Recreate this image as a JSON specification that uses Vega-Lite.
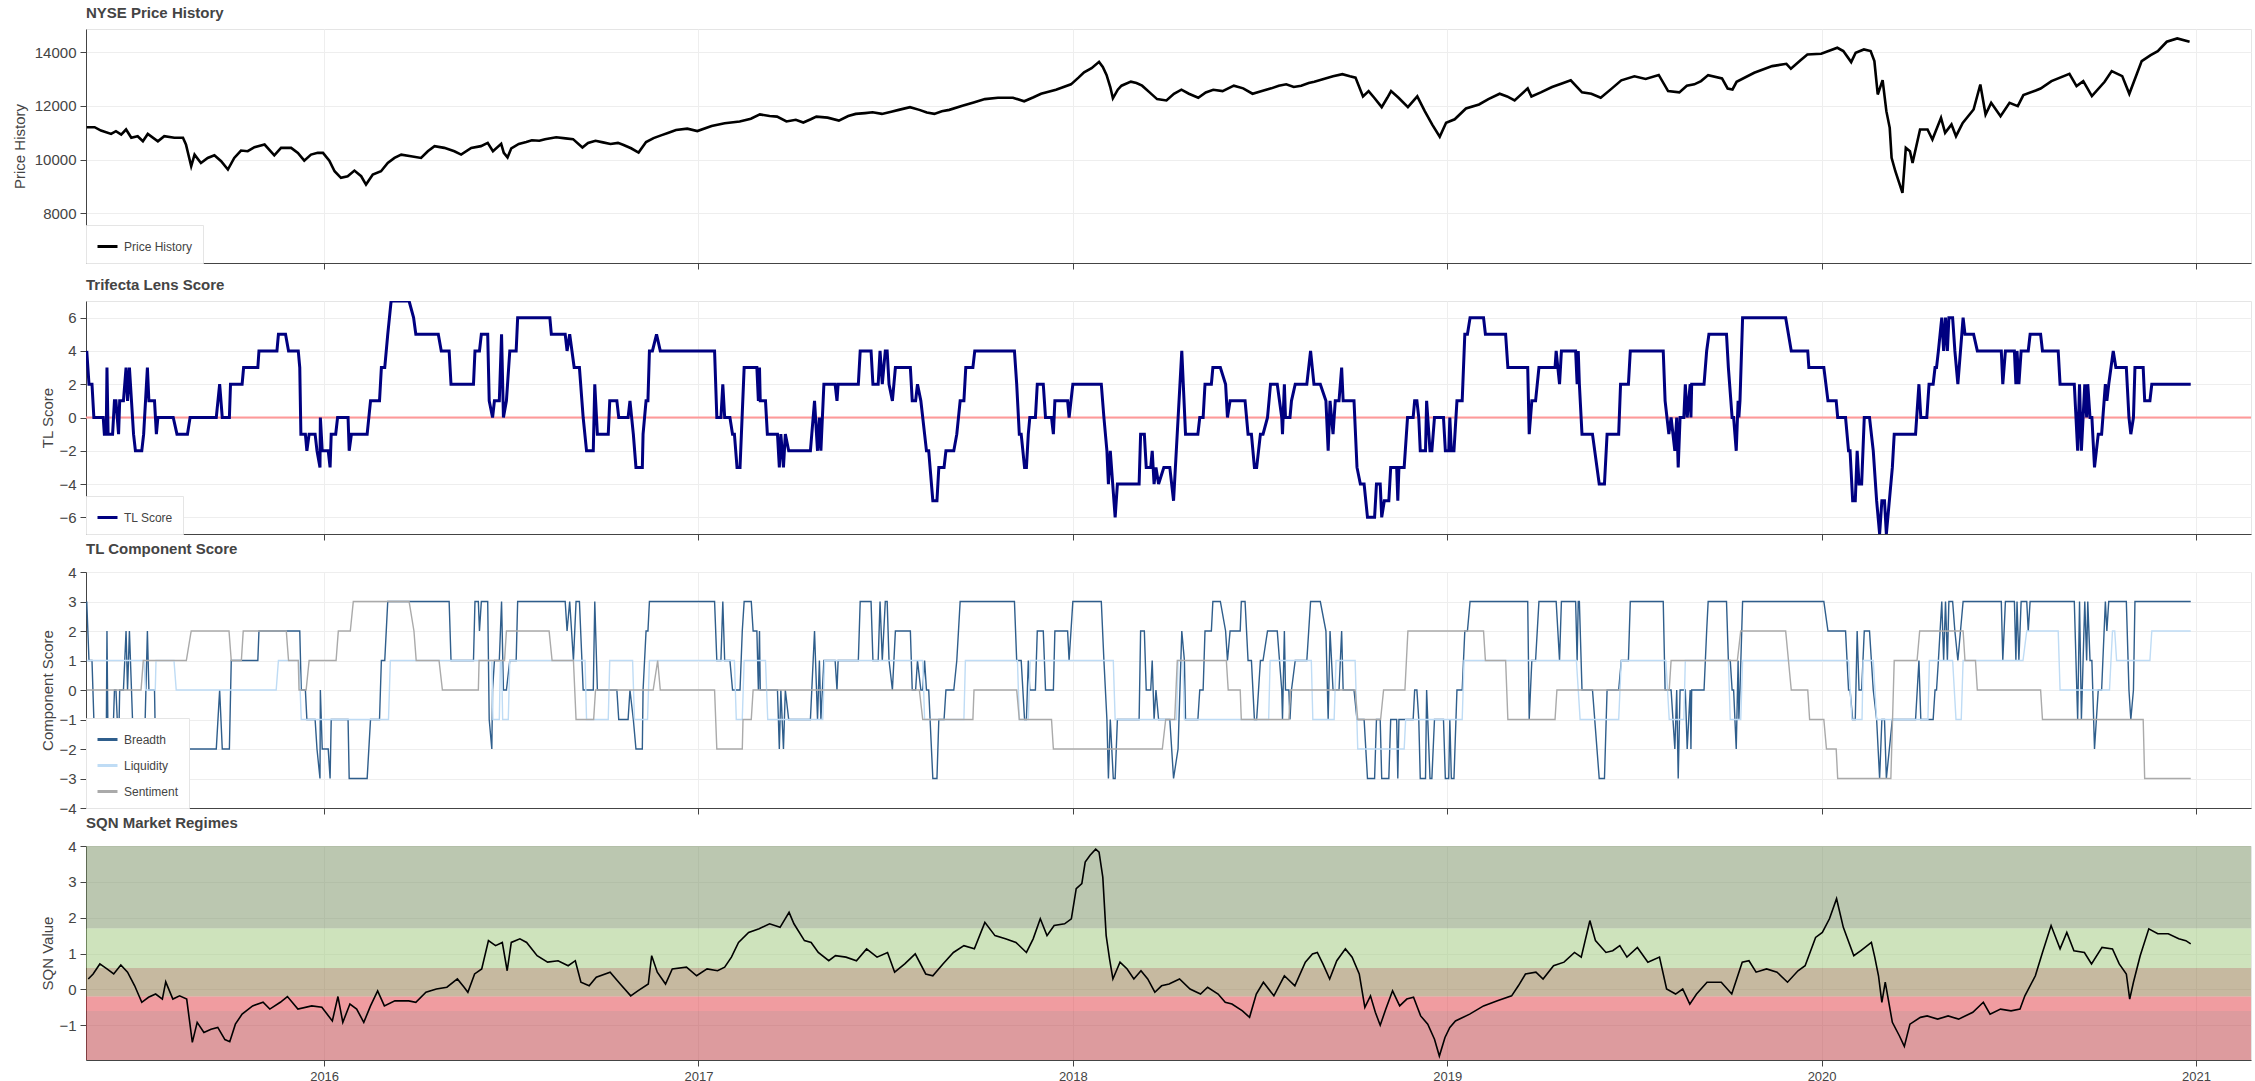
{
"$schema": "https://vega.github.io/schema/vega-lite/v6.json",
"autosize": {"type": "pad"},
"padding": {"left": 11, "top": 5, "right": 5, "bottom": 0},
"background": "white",
"bounds": "flush",
"spacing": 38,
"config": {
 "font": "Liberation Sans",
 "view": {"stroke": "#e5e5e5"},
 "title": {"anchor": "start", "fontSize": 15, "fontWeight": "bold", "color": "#444444", "offset": 8, "frame": "group"},
 "axis": {"labelFontSize": 15, "labelColor": "#444444", "titleFontSize": 15, "titleFontWeight": "normal", "titleColor": "#444444", "domainColor": "#444444", "tickColor": "#444444", "gridColor": "#eeeeee", "tickSize": 6, "labelPadding": 4, "titlePadding": 7},
 "legend": {"orient": "bottom-left", "offset": 0, "padding": 10, "fillColor": "white", "strokeColor": "#e5e5e5", "labelFontSize": 12, "labelColor": "#444444", "symbolType": "stroke", "symbolSize": 400, "symbolStrokeWidth": 3, "rowPadding": 8, "labelOffset": 5}
},
"resolve": {"scale": {"x": "independent", "y": "independent", "color": "independent"}, "legend": {"color": "independent"}},
"datasets": {
"price": [
{"t":2015.366,"v":11205},{"t":2015.387,"v":11205},{"t":2015.404,"v":11080},{"t":2015.431,"v":10955},{"t":2015.444,"v":11055},{"t":2015.458,"v":10930},{"t":2015.471,"v":11120},{"t":2015.485,"v":10810},{"t":2015.502,"v":10870},{"t":2015.516,"v":10680},{"t":2015.529,"v":10955},{"t":2015.556,"v":10680},{"t":2015.573,"v":10870},{"t":2015.600,"v":10810},{"t":2015.623,"v":10810},{"t":2015.631,"v":10560},{"t":2015.645,"v":9750},{"t":2015.654,"v":10185},{"t":2015.671,"v":9875},{"t":2015.689,"v":10060},{"t":2015.707,"v":10160},{"t":2015.725,"v":9940},{"t":2015.743,"v":9630},{"t":2015.760,"v":10060},{"t":2015.778,"v":10335},{"t":2015.796,"v":10310},{"t":2015.814,"v":10460},{"t":2015.841,"v":10560},{"t":2015.867,"v":10160},{"t":2015.885,"v":10435},{"t":2015.912,"v":10435},{"t":2015.930,"v":10250},{"t":2015.947,"v":9960},{"t":2015.965,"v":10185},{"t":2015.983,"v":10250},{"t":2015.997,"v":10250},{"t":2016.014,"v":9960},{"t":2016.028,"v":9565},{"t":2016.045,"v":9320},{"t":2016.063,"v":9380},{"t":2016.081,"v":9590},{"t":2016.099,"v":9380},{"t":2016.112,"v":9070},{"t":2016.130,"v":9440},{"t":2016.152,"v":9565},{"t":2016.170,"v":9875},{"t":2016.188,"v":10060},{"t":2016.206,"v":10185},{"t":2016.232,"v":10125},{"t":2016.259,"v":10060},{"t":2016.277,"v":10310},{"t":2016.295,"v":10500},{"t":2016.321,"v":10435},{"t":2016.348,"v":10310},{"t":2016.366,"v":10185},{"t":2016.393,"v":10435},{"t":2016.419,"v":10500},{"t":2016.437,"v":10620},{"t":2016.451,"v":10310},{"t":2016.473,"v":10585},
{"t":2016.480,"v":10250},{"t":2016.490,"v":10080},{"t":2016.500,"v":10420},{"t":2016.520,"v":10580},{"t":2016.540,"v":10650},{"t":2016.555,"v":10720},{"t":2016.575,"v":10700},{"t":2016.590,"v":10760},{"t":2016.620,"v":10830},{"t":2016.645,"v":10790},{"t":2016.665,"v":10760},{"t":2016.690,"v":10450},{"t":2016.705,"v":10620},{"t":2016.725,"v":10700},{"t":2016.745,"v":10640},{"t":2016.765,"v":10580},{"t":2016.785,"v":10620},{"t":2016.800,"v":10540},{"t":2016.820,"v":10420},{"t":2016.840,"v":10260},{"t":2016.860,"v":10650},{"t":2016.880,"v":10800},{"t":2016.900,"v":10900},{"t":2016.920,"v":11000},{"t":2016.940,"v":11100},{"t":2016.970,"v":11150},{"t":2016.997,"v":11060},{"t":2017.035,"v":11250},{"t":2017.070,"v":11350},{"t":2017.110,"v":11420},{"t":2017.140,"v":11520},{"t":2017.164,"v":11680},{"t":2017.190,"v":11620},{"t":2017.210,"v":11600},{"t":2017.235,"v":11420},{"t":2017.260,"v":11480},{"t":2017.280,"v":11380},{"t":2017.300,"v":11500},{"t":2017.315,"v":11600},{"t":2017.345,"v":11560},{"t":2017.375,"v":11450},{"t":2017.400,"v":11620},{"t":2017.420,"v":11700},{"t":2017.445,"v":11730},{"t":2017.465,"v":11760},{"t":2017.490,"v":11700},{"t":2017.515,"v":11780},{"t":2017.535,"v":11850},{"t":2017.565,"v":11950},{"t":2017.590,"v":11850},{"t":2017.610,"v":11750},{"t":2017.630,"v":11700},{"t":2017.650,"v":11800},{"t":2017.670,"v":11850},{"t":2017.705,"v":12000},{"t":2017.735,"v":12120},{"t":2017.765,"v":12250},{"t":2017.800,"v":12300},{"t":2017.840,"v":12300},{"t":2017.870,"v":12170},{"t":2017.895,"v":12320},{"t":2017.915,"v":12450},{"t":2017.955,"v":12600},{"t":2017.995,"v":12800},{"t":2018.015,"v":13050},{"t":2018.030,"v":13250},{"t":2018.050,"v":13400},{"t":2018.070,"v":13637},{"t":2018.080,"v":13450},{"t":2018.090,"v":13150},{"t":2018.100,"v":12700},{"t":2018.107,"v":12280},{"t":2018.120,"v":12600},{"t":2018.130,"v":12750},{"t":2018.155,"v":12900},{"t":2018.170,"v":12850},{"t":2018.185,"v":12750},{"t":2018.205,"v":12500},{"t":2018.225,"v":12250},{"t":2018.250,"v":12200},{"t":2018.270,"v":12450},{"t":2018.290,"v":12600},{"t":2018.310,"v":12450},{"t":2018.335,"v":12300},{"t":2018.355,"v":12500},{"t":2018.375,"v":12600},{"t":2018.400,"v":12550},{"t":2018.430,"v":12750},{"t":2018.455,"v":12650},{"t":2018.480,"v":12450},{"t":2018.505,"v":12550},{"t":2018.530,"v":12650},{"t":2018.550,"v":12750},{"t":2018.570,"v":12800},{"t":2018.590,"v":12700},{"t":2018.610,"v":12750},{"t":2018.630,"v":12850},{"t":2018.645,"v":12900},{"t":2018.670,"v":13000},{"t":2018.695,"v":13100},{"t":2018.720,"v":13180},{"t":2018.740,"v":13100},{"t":2018.755,"v":13050},{"t":2018.775,"v":12350},{"t":2018.790,"v":12550},{"t":2018.805,"v":12300},{"t":2018.825,"v":11950},{"t":2018.840,"v":12300},{"t":2018.850,"v":12550},{"t":2018.870,"v":12300},{"t":2018.895,"v":11950},{"t":2018.920,"v":12350},{"t":2018.940,"v":11800},{"t":2018.960,"v":11300},{"t":2018.980,"v":10850},{"t":2018.997,"v":11370},{"t":2019.020,"v":11500},{"t":2019.050,"v":11900},{"t":2019.085,"v":12050},{"t":2019.110,"v":12250},{"t":2019.140,"v":12450},{"t":2019.160,"v":12350},{"t":2019.180,"v":12200},{"t":2019.215,"v":12650},{"t":2019.225,"v":12350},{"t":2019.250,"v":12500},{"t":2019.280,"v":12700},{"t":2019.310,"v":12850},{"t":2019.330,"v":12950},{"t":2019.360,"v":12500},{"t":2019.385,"v":12450},{"t":2019.410,"v":12300},{"t":2019.440,"v":12650},{"t":2019.465,"v":12950},{"t":2019.500,"v":13100},{"t":2019.530,"v":13000},{"t":2019.565,"v":13150},{"t":2019.590,"v":12550},{"t":2019.620,"v":12500},{"t":2019.640,"v":12750},{"t":2019.660,"v":12800},
{"t":2019.678,"v":12920},{"t":2019.697,"v":13143},{"t":2019.734,"v":13019},{"t":2019.749,"v":12646},{"t":2019.762,"v":12609},{"t":2019.773,"v":12895},{"t":2019.820,"v":13230},{"t":2019.868,"v":13478},{"t":2019.906,"v":13565},{"t":2019.918,"v":13379},{"t":2019.943,"v":13690},{"t":2019.962,"v":13913},{"t":2019.999,"v":13938},{"t":2020.042,"v":14161},{"t":2020.058,"v":14037},{"t":2020.079,"v":13627},{"t":2020.091,"v":13975},{"t":2020.113,"v":14099},{"t":2020.131,"v":14037},{"t":2020.141,"v":13665},{"t":2020.150,"v":12423},{"t":2020.163,"v":12957},{"t":2020.173,"v":11802},{"t":2020.182,"v":11181},{"t":2020.187,"v":10063},{"t":2020.197,"v":9566},{"t":2020.216,"v":8759},{"t":2020.225,"v":10435},{"t":2020.236,"v":10311},{"t":2020.243,"v":9876},{"t":2020.263,"v":11118},{"t":2020.283,"v":11118},{"t":2020.296,"v":10746},{"t":2020.319,"v":11553},{"t":2020.330,"v":10994},{"t":2020.347,"v":11305},{"t":2020.359,"v":10870},{"t":2020.377,"v":11367},{"t":2020.406,"v":11864},{"t":2020.424,"v":12795},{"t":2020.438,"v":11677},{"t":2020.453,"v":12112},{"t":2020.478,"v":11615},{"t":2020.502,"v":12112},{"t":2020.524,"v":11988},{"t":2020.539,"v":12398},{"t":2020.572,"v":12572},{"t":2020.585,"v":12646},{"t":2020.614,"v":12920},{"t":2020.662,"v":13193},{"t":2020.681,"v":12733},{"t":2020.699,"v":12920},{"t":2020.722,"v":12361},{"t":2020.756,"v":12895},{"t":2020.775,"v":13292},{"t":2020.803,"v":13106},{"t":2020.822,"v":12447},{"t":2020.855,"v":13665},{"t":2020.879,"v":13888},{"t":2020.898,"v":14037},{"t":2020.922,"v":14385},{"t":2020.950,"v":14509},{"t":2020.983,"v":14385}
],
"tl": [
{"t":2015.366,"v":4},{"t":2015.372,"v":2},{"t":2015.380,"v":2},{"t":2015.385,"v":0},{"t":2015.410,"v":0},{"t":2015.413,"v":-1},{"t":2015.418,"v":-1},{"t":2015.420,"v":3},{"t":2015.423,"v":-1},{"t":2015.435,"v":-1},{"t":2015.440,"v":1},{"t":2015.444,"v":1},{"t":2015.451,"v":-1},{"t":2015.454,"v":1},{"t":2015.464,"v":1},{"t":2015.471,"v":3},{"t":2015.475,"v":1},{"t":2015.480,"v":3},{"t":2015.491,"v":-1},{"t":2015.496,"v":-2},{"t":2015.513,"v":-2},{"t":2015.518,"v":-1},{"t":2015.528,"v":3},{"t":2015.532,"v":1},{"t":2015.547,"v":1},{"t":2015.552,"v":-1},{"t":2015.556,"v":0},{"t":2015.597,"v":0},{"t":2015.607,"v":-1},{"t":2015.635,"v":-1},{"t":2015.642,"v":0},{"t":2015.712,"v":0},{"t":2015.721,"v":2},{"t":2015.728,"v":0},{"t":2015.747,"v":0},{"t":2015.750,"v":2},{"t":2015.781,"v":2},{"t":2015.785,"v":3},{"t":2015.823,"v":3},{"t":2015.826,"v":4},{"t":2015.874,"v":4},{"t":2015.878,"v":5},{"t":2015.897,"v":5},{"t":2015.905,"v":4},{"t":2015.931,"v":4},{"t":2015.935,"v":3},{"t":2015.938,"v":-1},{"t":2015.950,"v":-1},{"t":2015.954,"v":-2},{"t":2015.960,"v":-1},{"t":2015.976,"v":-1},{"t":2015.981,"v":-2},{"t":2015.989,"v":-3},{"t":2015.990,"v":0},{"t":2015.995,"v":-2},{"t":2016.011,"v":-2},{"t":2016.016,"v":-3},{"t":2016.019,"v":-1},{"t":2016.031,"v":-1},{"t":2016.036,"v":0},{"t":2016.064,"v":0},{"t":2016.067,"v":-2},{"t":2016.073,"v":-1},{"t":2016.115,"v":-1},{"t":2016.124,"v":1},{"t":2016.148,"v":1},{"t":2016.153,"v":3},{"t":2016.162,"v":3},{"t":2016.170,"v":5},{"t":2016.179,"v":7},{"t":2016.227,"v":7},{"t":2016.239,"v":6},{"t":2016.245,"v":5},{"t":2016.305,"v":5},{"t":2016.313,"v":4},{"t":2016.334,"v":4},{"t":2016.339,"v":2},{"t":2016.399,"v":2},{"t":2016.403,"v":4},{"t":2016.415,"v":4},{"t":2016.420,"v":5},{"t":2016.437,"v":5},{"t":2016.441,"v":1},{"t":2016.450,"v":0},{"t":2016.455,"v":1},{"t":2016.468,"v":1},{"t":2016.474,"v":5},{"t":2016.479,"v":0},{"t":2016.487,"v":1},{"t":2016.496,"v":4},{"t":2016.513,"v":4},{"t":2016.517,"v":6},{"t":2016.603,"v":6},{"t":2016.607,"v":5},{"t":2016.644,"v":5},{"t":2016.649,"v":4},{"t":2016.656,"v":5},{"t":2016.668,"v":3},{"t":2016.682,"v":3},{"t":2016.692,"v":0},{"t":2016.701,"v":-2},{"t":2016.719,"v":-2},{"t":2016.723,"v":2},{"t":2016.730,"v":-1},{"t":2016.759,"v":-1},{"t":2016.763,"v":1},{"t":2016.782,"v":1},{"t":2016.787,"v":0},
{"t":2016.812,"v":0},{"t":2016.817,"v":1},{"t":2016.826,"v":-1},{"t":2016.833,"v":-3},{"t":2016.850,"v":-3},{"t":2016.852,"v":-1},{"t":2016.860,"v":1},{"t":2016.865,"v":1},{"t":2016.869,"v":4},{"t":2016.877,"v":4},{"t":2016.888,"v":5},{"t":2016.898,"v":4},{"t":2017.043,"v":4},{"t":2017.049,"v":0},{"t":2017.060,"v":0},{"t":2017.065,"v":2},{"t":2017.070,"v":0},{"t":2017.084,"v":0},{"t":2017.091,"v":-1},{"t":2017.096,"v":-1},{"t":2017.103,"v":-3},{"t":2017.111,"v":-3},{"t":2017.122,"v":3},{"t":2017.156,"v":3},{"t":2017.160,"v":1},{"t":2017.163,"v":3},{"t":2017.165,"v":1},{"t":2017.179,"v":1},{"t":2017.184,"v":-1},{"t":2017.211,"v":-1},{"t":2017.216,"v":-3},{"t":2017.220,"v":-1},{"t":2017.227,"v":-3},{"t":2017.232,"v":-1},{"t":2017.241,"v":-2},{"t":2017.299,"v":-2},{"t":2017.310,"v":1},{"t":2017.318,"v":-2},{"t":2017.323,"v":0},{"t":2017.327,"v":-2},{"t":2017.335,"v":2},{"t":2017.365,"v":2},{"t":2017.370,"v":1},{"t":2017.373,"v":2},{"t":2017.427,"v":2},{"t":2017.432,"v":4},{"t":2017.461,"v":4},{"t":2017.466,"v":2},{"t":2017.480,"v":2},{"t":2017.485,"v":4},{"t":2017.491,"v":2},{"t":2017.499,"v":4},{"t":2017.504,"v":4},{"t":2017.509,"v":2},{"t":2017.518,"v":1},{"t":2017.526,"v":3},{"t":2017.566,"v":3},{"t":2017.571,"v":1},{"t":2017.580,"v":1},{"t":2017.585,"v":2},{"t":2017.594,"v":1},{"t":2017.604,"v":-1},{"t":2017.609,"v":-2},{"t":2017.615,"v":-2},{"t":2017.626,"v":-5},{"t":2017.637,"v":-5},{"t":2017.642,"v":-3},{"t":2017.656,"v":-3},{"t":2017.661,"v":-2},{"t":2017.682,"v":-2},{"t":2017.690,"v":-1},{"t":2017.699,"v":1},{"t":2017.709,"v":1},{"t":2017.714,"v":3},{"t":2017.733,"v":3},{"t":2017.738,"v":4},{"t":2017.844,"v":4},{"t":2017.850,"v":2},{"t":2017.857,"v":-1},{"t":2017.862,"v":-1},{"t":2017.871,"v":-3},{"t":2017.876,"v":-3},{"t":2017.881,"v":-1},{"t":2017.885,"v":0},{"t":2017.900,"v":0},{"t":2017.905,"v":2},{"t":2017.921,"v":2},{"t":2017.927,"v":0},{"t":2017.943,"v":0},{"t":2017.948,"v":-1},{"t":2017.952,"v":1},{"t":2017.986,"v":1},{"t":2017.990,"v":0},{"t":2018.000,"v":2},{"t":2018.076,"v":2},{"t":2018.083,"v":0},{"t":2018.091,"v":-2},{"t":2018.095,"v":-4},{"t":2018.100,"v":-2},{"t":2018.113,"v":-6},{"t":2018.119,"v":-4},{"t":2018.177,"v":-4},{"t":2018.181,"v":-1},{"t":2018.191,"v":-1},{"t":2018.196,"v":-3},{"t":2018.208,"v":-3},{"t":2018.212,"v":-2},{"t":2018.217,"v":-4},{"t":2018.222,"v":-3},{"t":2018.229,"v":-4},{"t":2018.243,"v":-3},{"t":2018.259,"v":-3},{"t":2018.269,"v":-5},
{"t":2018.291,"v":4},{"t":2018.301,"v":-1},{"t":2018.334,"v":-1},{"t":2018.339,"v":0},{"t":2018.348,"v":0},{"t":2018.353,"v":2},{"t":2018.370,"v":2},{"t":2018.374,"v":3},{"t":2018.394,"v":3},{"t":2018.408,"v":2},{"t":2018.413,"v":0},{"t":2018.420,"v":1},{"t":2018.460,"v":1},{"t":2018.468,"v":-1},{"t":2018.477,"v":-1},{"t":2018.485,"v":-3},{"t":2018.491,"v":-3},{"t":2018.501,"v":-1},{"t":2018.508,"v":-1},{"t":2018.520,"v":0},{"t":2018.528,"v":2},{"t":2018.546,"v":2},{"t":2018.558,"v":0},{"t":2018.560,"v":-1},{"t":2018.565,"v":2},{"t":2018.568,"v":0},{"t":2018.580,"v":0},{"t":2018.584,"v":1},{"t":2018.594,"v":2},{"t":2018.625,"v":2},{"t":2018.635,"v":4},{"t":2018.644,"v":2},{"t":2018.661,"v":2},{"t":2018.676,"v":1},{"t":2018.682,"v":-2},{"t":2018.687,"v":1},{"t":2018.695,"v":-1},{"t":2018.701,"v":1},{"t":2018.711,"v":1},{"t":2018.718,"v":3},{"t":2018.722,"v":1},{"t":2018.751,"v":1},{"t":2018.759,"v":-3},{"t":2018.768,"v":-4},{"t":2018.778,"v":-4},{"t":2018.787,"v":-6},{"t":2018.806,"v":-6},{"t":2018.811,"v":-4},{"t":2018.821,"v":-4},{"t":2018.825,"v":-6},{"t":2018.832,"v":-5},{"t":2018.844,"v":-5},{"t":2018.849,"v":-3},{"t":2018.865,"v":-3},{"t":2018.868,"v":-5},{"t":2018.871,"v":-3},{"t":2018.885,"v":-3},{"t":2018.894,"v":0},{"t":2018.909,"v":0},{"t":2018.913,"v":1},{"t":2018.919,"v":1},{"t":2018.924,"v":0},{"t":2018.928,"v":-2},{"t":2018.942,"v":-2},{"t":2018.945,"v":1},{"t":2018.954,"v":-2},{"t":2018.959,"v":-2},{"t":2018.966,"v":0},{"t":2018.990,"v":0},{"t":2018.995,"v":-2},{"t":2019.004,"v":-2},{"t":2019.007,"v":0},{"t":2019.011,"v":-2},{"t":2019.018,"v":-2},{"t":2019.026,"v":1},{"t":2019.040,"v":1},{"t":2019.047,"v":5},{"t":2019.054,"v":5},{"t":2019.061,"v":6},{"t":2019.097,"v":6},{"t":2019.102,"v":5},{"t":2019.156,"v":5},{"t":2019.162,"v":3},{"t":2019.215,"v":3},{"t":2019.219,"v":-1},{"t":2019.226,"v":1},{"t":2019.236,"v":1},{"t":2019.245,"v":3},{"t":2019.288,"v":3},{"t":2019.291,"v":4},{"t":2019.300,"v":2},{"t":2019.305,"v":4},{"t":2019.343,"v":4},{"t":2019.347,"v":2},{"t":2019.350,"v":4},{"t":2019.353,"v":2},{"t":2019.360,"v":-1},{"t":2019.388,"v":-1},{"t":2019.406,"v":-4},{"t":2019.420,"v":-4},{"t":2019.427,"v":-1},{"t":2019.458,"v":-1},{"t":2019.463,"v":2},{"t":2019.484,"v":2},{"t":2019.489,"v":4},{"t":2019.577,"v":4},{"t":2019.582,"v":1},{"t":2019.592,"v":-1},{"t":2019.598,"v":0},{"t":2019.608,"v":-2},{"t":2019.613,"v":0},{"t":2019.617,"v":-3},{"t":2019.622,"v":0},{"t":2019.632,"v":0},{"t":2019.636,"v":2},{"t":2019.641,"v":0},{"t":2019.649,"v":2},{"t":2019.651,"v":0},{"t":2019.653,"v":2},{"t":2019.686,"v":2},
{"t":2019.693,"v":4},{"t":2019.699,"v":5},{"t":2019.746,"v":5},{"t":2019.751,"v":3},{"t":2019.761,"v":0},{"t":2019.765,"v":0},{"t":2019.772,"v":-2},{"t":2019.777,"v":1},{"t":2019.779,"v":0},{"t":2019.782,"v":1},{"t":2019.789,"v":6},{"t":2019.904,"v":6},{"t":2019.919,"v":4},{"t":2019.963,"v":4},{"t":2019.966,"v":3},{"t":2020.006,"v":3},{"t":2020.017,"v":1},{"t":2020.039,"v":1},{"t":2020.043,"v":0},{"t":2020.064,"v":0},{"t":2020.072,"v":-2},{"t":2020.076,"v":-2},{"t":2020.083,"v":-5},{"t":2020.090,"v":-5},{"t":2020.095,"v":-2},{"t":2020.100,"v":-4},{"t":2020.107,"v":-4},{"t":2020.114,"v":0},{"t":2020.128,"v":0},{"t":2020.138,"v":-2},{"t":2020.147,"v":-5},{"t":2020.155,"v":-7},{"t":2020.161,"v":-5},{"t":2020.168,"v":-5},{"t":2020.173,"v":-7},{"t":2020.189,"v":-3},{"t":2020.194,"v":-1},{"t":2020.251,"v":-1},{"t":2020.260,"v":2},{"t":2020.265,"v":0},{"t":2020.281,"v":0},{"t":2020.287,"v":2},{"t":2020.298,"v":2},{"t":2020.303,"v":3},{"t":2020.307,"v":3},{"t":2020.312,"v":4},{"t":2020.321,"v":6},{"t":2020.326,"v":4},{"t":2020.331,"v":6},{"t":2020.336,"v":4},{"t":2020.340,"v":6},{"t":2020.350,"v":6},{"t":2020.356,"v":4},{"t":2020.364,"v":2},{"t":2020.378,"v":6},{"t":2020.383,"v":5},{"t":2020.406,"v":5},{"t":2020.416,"v":4},{"t":2020.480,"v":4},{"t":2020.484,"v":2},{"t":2020.491,"v":4},{"t":2020.515,"v":4},{"t":2020.519,"v":2},{"t":2020.522,"v":4},{"t":2020.527,"v":2},{"t":2020.533,"v":4},{"t":2020.552,"v":4},{"t":2020.557,"v":5},{"t":2020.585,"v":5},{"t":2020.590,"v":4},{"t":2020.632,"v":4},{"t":2020.637,"v":2},{"t":2020.675,"v":2},{"t":2020.684,"v":-2},{"t":2020.689,"v":2},{"t":2020.694,"v":-2},{"t":2020.703,"v":2},{"t":2020.708,"v":0},{"t":2020.711,"v":2},{"t":2020.717,"v":0},{"t":2020.722,"v":0},{"t":2020.729,"v":-3},{"t":2020.739,"v":-1},{"t":2020.748,"v":-1},{"t":2020.758,"v":2},{"t":2020.762,"v":1},{"t":2020.767,"v":2},{"t":2020.779,"v":4},{"t":2020.786,"v":3},{"t":2020.814,"v":3},{"t":2020.821,"v":0},{"t":2020.826,"v":-1},{"t":2020.833,"v":0},{"t":2020.837,"v":3},{"t":2020.859,"v":3},{"t":2020.863,"v":1},{"t":2020.877,"v":1},{"t":2020.882,"v":2},{"t":2020.986,"v":2}
],
"comp": [
{"t":2015.366,"v":3,"s":"Breadth"},{"t":2015.372,"v":1,"s":"Breadth"},{"t":2015.380,"v":1,"s":"Breadth"},{"t":2015.385,"v":-1,"s":"Breadth"},{"t":2015.410,"v":-1,"s":"Breadth"},{"t":2015.413,"v":-2,"s":"Breadth"},{"t":2015.418,"v":-2,"s":"Breadth"},{"t":2015.420,"v":2,"s":"Breadth"},{"t":2015.423,"v":-2,"s":"Breadth"},{"t":2015.435,"v":-2,"s":"Breadth"},{"t":2015.440,"v":0,"s":"Breadth"},{"t":2015.444,"v":0,"s":"Breadth"},{"t":2015.451,"v":-2,"s":"Breadth"},{"t":2015.454,"v":0,"s":"Breadth"},{"t":2015.464,"v":0,"s":"Breadth"},{"t":2015.471,"v":2,"s":"Breadth"},{"t":2015.475,"v":0,"s":"Breadth"},{"t":2015.480,"v":2,"s":"Breadth"},{"t":2015.491,"v":-2,"s":"Breadth"},{"t":2015.496,"v":-3,"s":"Breadth"},{"t":2015.518,"v":-3,"s":"Breadth"},{"t":2015.528,"v":2,"s":"Breadth"},{"t":2015.532,"v":0,"s":"Breadth"},{"t":2015.547,"v":0,"s":"Breadth"},{"t":2015.551,"v":-3,"s":"Breadth"},{"t":2015.556,"v":-2,"s":"Breadth"},{"t":2015.712,"v":-2,"s":"Breadth"},{"t":2015.721,"v":0,"s":"Breadth"},{"t":2015.728,"v":-2,"s":"Breadth"},{"t":2015.747,"v":-2,"s":"Breadth"},{"t":2015.752,"v":1,"s":"Breadth"},{"t":2015.823,"v":1,"s":"Breadth"},{"t":2015.826,"v":2,"s":"Breadth"},{"t":2015.935,"v":2,"s":"Breadth"},{"t":2015.939,"v":0,"s":"Breadth"},{"t":2015.950,"v":0,"s":"Breadth"},{"t":2015.954,"v":-1,"s":"Breadth"},{"t":2015.976,"v":-1,"s":"Breadth"},{"t":2015.981,"v":-2,"s":"Breadth"},{"t":2015.989,"v":-3,"s":"Breadth"},{"t":2015.990,"v":0,"s":"Breadth"},{"t":2015.995,"v":-2,"s":"Breadth"},{"t":2016.011,"v":-2,"s":"Breadth"},{"t":2016.016,"v":-3,"s":"Breadth"},{"t":2016.019,"v":-1,"s":"Breadth"},{"t":2016.064,"v":-1,"s":"Breadth"},{"t":2016.067,"v":-3,"s":"Breadth"},{"t":2016.115,"v":-3,"s":"Breadth"},{"t":2016.124,"v":-1,"s":"Breadth"},{"t":2016.148,"v":-1,"s":"Breadth"},{"t":2016.153,"v":1,"s":"Breadth"},{"t":2016.162,"v":1,"s":"Breadth"},{"t":2016.170,"v":3,"s":"Breadth"},{"t":2016.334,"v":3,"s":"Breadth"},{"t":2016.339,"v":1,"s":"Breadth"},{"t":2016.399,"v":1,"s":"Breadth"},{"t":2016.403,"v":3,"s":"Breadth"},{"t":2016.412,"v":3,"s":"Breadth"},{"t":2016.415,"v":2,"s":"Breadth"},{"t":2016.420,"v":3,"s":"Breadth"},{"t":2016.437,"v":3,"s":"Breadth"},{"t":2016.441,"v":-1,"s":"Breadth"},{"t":2016.448,"v":-2,"s":"Breadth"},{"t":2016.450,"v":0,"s":"Breadth"},{"t":2016.455,"v":1,"s":"Breadth"},{"t":2016.468,"v":1,"s":"Breadth"},{"t":2016.474,"v":3,"s":"Breadth"},{"t":2016.479,"v":0,"s":"Breadth"},{"t":2016.487,"v":0,"s":"Breadth"},{"t":2016.496,"v":1,"s":"Breadth"},{"t":2016.513,"v":1,"s":"Breadth"},{"t":2016.517,"v":3,"s":"Breadth"},{"t":2016.644,"v":3,"s":"Breadth"},{"t":2016.649,"v":2,"s":"Breadth"},{"t":2016.656,"v":3,"s":"Breadth"},{"t":2016.666,"v":1,"s":"Breadth"},{"t":2016.673,"v":3,"s":"Breadth"},{"t":2016.682,"v":3,"s":"Breadth"},{"t":2016.692,"v":0,"s":"Breadth"},{"t":2016.719,"v":0,"s":"Breadth"},{"t":2016.723,"v":3,"s":"Breadth"},{"t":2016.730,"v":0,"s":"Breadth"},{"t":2016.782,"v":0,"s":"Breadth"},{"t":2016.787,"v":-1,"s":"Breadth"},
{"t":2016.812,"v":-1,"s":"Breadth"},{"t":2016.817,"v":0,"s":"Breadth"},{"t":2016.826,"v":-1,"s":"Breadth"},{"t":2016.833,"v":-2,"s":"Breadth"},{"t":2016.850,"v":-2,"s":"Breadth"},{"t":2016.852,"v":0,"s":"Breadth"},{"t":2016.860,"v":2,"s":"Breadth"},{"t":2016.865,"v":2,"s":"Breadth"},{"t":2016.869,"v":3,"s":"Breadth"},{"t":2017.043,"v":3,"s":"Breadth"},{"t":2017.049,"v":1,"s":"Breadth"},{"t":2017.060,"v":1,"s":"Breadth"},{"t":2017.065,"v":3,"s":"Breadth"},{"t":2017.070,"v":1,"s":"Breadth"},{"t":2017.084,"v":1,"s":"Breadth"},{"t":2017.091,"v":0,"s":"Breadth"},{"t":2017.111,"v":0,"s":"Breadth"},{"t":2017.117,"v":2,"s":"Breadth"},{"t":2017.122,"v":3,"s":"Breadth"},{"t":2017.141,"v":3,"s":"Breadth"},{"t":2017.146,"v":2,"s":"Breadth"},{"t":2017.156,"v":2,"s":"Breadth"},{"t":2017.160,"v":0,"s":"Breadth"},{"t":2017.163,"v":2,"s":"Breadth"},{"t":2017.165,"v":0,"s":"Breadth"},{"t":2017.211,"v":0,"s":"Breadth"},{"t":2017.216,"v":-2,"s":"Breadth"},{"t":2017.220,"v":0,"s":"Breadth"},{"t":2017.227,"v":-2,"s":"Breadth"},{"t":2017.232,"v":0,"s":"Breadth"},{"t":2017.241,"v":-1,"s":"Breadth"},{"t":2017.299,"v":-1,"s":"Breadth"},{"t":2017.310,"v":2,"s":"Breadth"},{"t":2017.318,"v":-1,"s":"Breadth"},{"t":2017.323,"v":1,"s":"Breadth"},{"t":2017.327,"v":-1,"s":"Breadth"},{"t":2017.335,"v":1,"s":"Breadth"},{"t":2017.365,"v":1,"s":"Breadth"},{"t":2017.370,"v":0,"s":"Breadth"},{"t":2017.373,"v":1,"s":"Breadth"},{"t":2017.427,"v":1,"s":"Breadth"},{"t":2017.432,"v":3,"s":"Breadth"},{"t":2017.461,"v":3,"s":"Breadth"},{"t":2017.466,"v":1,"s":"Breadth"},{"t":2017.480,"v":1,"s":"Breadth"},{"t":2017.485,"v":3,"s":"Breadth"},{"t":2017.491,"v":1,"s":"Breadth"},{"t":2017.499,"v":3,"s":"Breadth"},{"t":2017.504,"v":3,"s":"Breadth"},{"t":2017.509,"v":1,"s":"Breadth"},{"t":2017.518,"v":0,"s":"Breadth"},{"t":2017.526,"v":2,"s":"Breadth"},{"t":2017.566,"v":2,"s":"Breadth"},{"t":2017.571,"v":0,"s":"Breadth"},{"t":2017.580,"v":0,"s":"Breadth"},{"t":2017.585,"v":1,"s":"Breadth"},{"t":2017.594,"v":0,"s":"Breadth"},{"t":2017.599,"v":0,"s":"Breadth"},{"t":2017.604,"v":1,"s":"Breadth"},{"t":2017.609,"v":0,"s":"Breadth"},{"t":2017.615,"v":0,"s":"Breadth"},{"t":2017.626,"v":-3,"s":"Breadth"},{"t":2017.637,"v":-3,"s":"Breadth"},{"t":2017.642,"v":-1,"s":"Breadth"},{"t":2017.656,"v":-1,"s":"Breadth"},{"t":2017.661,"v":0,"s":"Breadth"},{"t":2017.682,"v":0,"s":"Breadth"},{"t":2017.690,"v":1,"s":"Breadth"},{"t":2017.699,"v":3,"s":"Breadth"},{"t":2017.844,"v":3,"s":"Breadth"},{"t":2017.850,"v":1,"s":"Breadth"},{"t":2017.862,"v":1,"s":"Breadth"},{"t":2017.871,"v":-1,"s":"Breadth"},{"t":2017.876,"v":-1,"s":"Breadth"},{"t":2017.881,"v":1,"s":"Breadth"},{"t":2017.885,"v":0,"s":"Breadth"},{"t":2017.900,"v":0,"s":"Breadth"},{"t":2017.905,"v":2,"s":"Breadth"},{"t":2017.921,"v":2,"s":"Breadth"},{"t":2017.927,"v":0,"s":"Breadth"},{"t":2017.948,"v":0,"s":"Breadth"},{"t":2017.952,"v":2,"s":"Breadth"},{"t":2017.986,"v":2,"s":"Breadth"},{"t":2017.990,"v":1,"s":"Breadth"},{"t":2018.000,"v":3,"s":"Breadth"},{"t":2018.076,"v":3,"s":"Breadth"},{"t":2018.083,"v":1,"s":"Breadth"},{"t":2018.091,"v":-1,"s":"Breadth"},{"t":2018.095,"v":-3,"s":"Breadth"},{"t":2018.100,"v":-1,"s":"Breadth"},{"t":2018.108,"v":-3,"s":"Breadth"},{"t":2018.113,"v":-3,"s":"Breadth"},{"t":2018.119,"v":-1,"s":"Breadth"},{"t":2018.177,"v":-1,"s":"Breadth"},{"t":2018.181,"v":2,"s":"Breadth"},{"t":2018.191,"v":2,"s":"Breadth"},{"t":2018.196,"v":0,"s":"Breadth"},{"t":2018.208,"v":0,"s":"Breadth"},{"t":2018.212,"v":1,"s":"Breadth"},{"t":2018.217,"v":-1,"s":"Breadth"},{"t":2018.222,"v":0,"s":"Breadth"},{"t":2018.229,"v":-1,"s":"Breadth"},
{"t":2018.259,"v":-1,"s":"Breadth"},{"t":2018.269,"v":-3,"s":"Breadth"},{"t":2018.281,"v":-2,"s":"Breadth"},{"t":2018.291,"v":2,"s":"Breadth"},{"t":2018.298,"v":1,"s":"Breadth"},{"t":2018.301,"v":-1,"s":"Breadth"},{"t":2018.334,"v":-1,"s":"Breadth"},{"t":2018.339,"v":0,"s":"Breadth"},{"t":2018.348,"v":0,"s":"Breadth"},{"t":2018.353,"v":2,"s":"Breadth"},{"t":2018.370,"v":2,"s":"Breadth"},{"t":2018.374,"v":3,"s":"Breadth"},{"t":2018.394,"v":3,"s":"Breadth"},{"t":2018.408,"v":2,"s":"Breadth"},{"t":2018.413,"v":1,"s":"Breadth"},{"t":2018.420,"v":2,"s":"Breadth"},{"t":2018.447,"v":2,"s":"Breadth"},{"t":2018.450,"v":3,"s":"Breadth"},{"t":2018.460,"v":3,"s":"Breadth"},{"t":2018.468,"v":1,"s":"Breadth"},{"t":2018.477,"v":1,"s":"Breadth"},{"t":2018.485,"v":-1,"s":"Breadth"},{"t":2018.491,"v":-1,"s":"Breadth"},{"t":2018.501,"v":1,"s":"Breadth"},{"t":2018.508,"v":1,"s":"Breadth"},{"t":2018.520,"v":2,"s":"Breadth"},{"t":2018.546,"v":2,"s":"Breadth"},{"t":2018.558,"v":0,"s":"Breadth"},{"t":2018.560,"v":-1,"s":"Breadth"},{"t":2018.565,"v":2,"s":"Breadth"},{"t":2018.568,"v":0,"s":"Breadth"},{"t":2018.577,"v":0,"s":"Breadth"},{"t":2018.580,"v":-1,"s":"Breadth"},{"t":2018.584,"v":0,"s":"Breadth"},{"t":2018.594,"v":1,"s":"Breadth"},{"t":2018.625,"v":1,"s":"Breadth"},{"t":2018.635,"v":3,"s":"Breadth"},{"t":2018.661,"v":3,"s":"Breadth"},{"t":2018.676,"v":2,"s":"Breadth"},{"t":2018.682,"v":-1,"s":"Breadth"},{"t":2018.687,"v":2,"s":"Breadth"},{"t":2018.695,"v":0,"s":"Breadth"},{"t":2018.711,"v":0,"s":"Breadth"},{"t":2018.718,"v":2,"s":"Breadth"},{"t":2018.722,"v":0,"s":"Breadth"},{"t":2018.751,"v":0,"s":"Breadth"},{"t":2018.759,"v":-1,"s":"Breadth"},{"t":2018.778,"v":-1,"s":"Breadth"},{"t":2018.787,"v":-3,"s":"Breadth"},{"t":2018.806,"v":-3,"s":"Breadth"},{"t":2018.811,"v":-1,"s":"Breadth"},{"t":2018.821,"v":-1,"s":"Breadth"},{"t":2018.825,"v":-3,"s":"Breadth"},{"t":2018.844,"v":-3,"s":"Breadth"},{"t":2018.849,"v":-1,"s":"Breadth"},{"t":2018.865,"v":-1,"s":"Breadth"},{"t":2018.868,"v":-3,"s":"Breadth"},{"t":2018.871,"v":-1,"s":"Breadth"},{"t":2018.909,"v":-1,"s":"Breadth"},{"t":2018.913,"v":0,"s":"Breadth"},{"t":2018.919,"v":0,"s":"Breadth"},{"t":2018.924,"v":-1,"s":"Breadth"},{"t":2018.928,"v":-3,"s":"Breadth"},{"t":2018.942,"v":-3,"s":"Breadth"},{"t":2018.945,"v":0,"s":"Breadth"},{"t":2018.954,"v":-3,"s":"Breadth"},{"t":2018.959,"v":-3,"s":"Breadth"},{"t":2018.966,"v":-1,"s":"Breadth"},{"t":2018.990,"v":-1,"s":"Breadth"},{"t":2018.995,"v":-3,"s":"Breadth"},{"t":2019.004,"v":-3,"s":"Breadth"},{"t":2019.007,"v":-1,"s":"Breadth"},{"t":2019.011,"v":-3,"s":"Breadth"},{"t":2019.018,"v":-3,"s":"Breadth"},{"t":2019.026,"v":0,"s":"Breadth"},{"t":2019.040,"v":0,"s":"Breadth"},{"t":2019.047,"v":2,"s":"Breadth"},{"t":2019.054,"v":2,"s":"Breadth"},{"t":2019.061,"v":3,"s":"Breadth"},{"t":2019.215,"v":3,"s":"Breadth"},{"t":2019.219,"v":-1,"s":"Breadth"},{"t":2019.226,"v":1,"s":"Breadth"},{"t":2019.236,"v":1,"s":"Breadth"},{"t":2019.245,"v":3,"s":"Breadth"},{"t":2019.291,"v":3,"s":"Breadth"},{"t":2019.300,"v":1,"s":"Breadth"},{"t":2019.305,"v":3,"s":"Breadth"},{"t":2019.343,"v":3,"s":"Breadth"},{"t":2019.347,"v":1,"s":"Breadth"},{"t":2019.350,"v":3,"s":"Breadth"},{"t":2019.353,"v":3,"s":"Breadth"},{"t":2019.360,"v":0,"s":"Breadth"},{"t":2019.388,"v":0,"s":"Breadth"},{"t":2019.406,"v":-3,"s":"Breadth"},{"t":2019.420,"v":-3,"s":"Breadth"},{"t":2019.427,"v":0,"s":"Breadth"},{"t":2019.458,"v":0,"s":"Breadth"},{"t":2019.465,"v":1,"s":"Breadth"},{"t":2019.484,"v":1,"s":"Breadth"},{"t":2019.489,"v":3,"s":"Breadth"},{"t":2019.577,"v":3,"s":"Breadth"},{"t":2019.582,"v":0,"s":"Breadth"},{"t":2019.598,"v":0,"s":"Breadth"},{"t":2019.608,"v":-2,"s":"Breadth"},{"t":2019.613,"v":0,"s":"Breadth"},{"t":2019.617,"v":-3,"s":"Breadth"},{"t":2019.622,"v":0,"s":"Breadth"},{"t":2019.636,"v":0,"s":"Breadth"},{"t":2019.641,"v":-2,"s":"Breadth"},{"t":2019.649,"v":0,"s":"Breadth"},{"t":2019.651,"v":-2,"s":"Breadth"},{"t":2019.653,"v":0,"s":"Breadth"},{"t":2019.686,"v":0,"s":"Breadth"},
{"t":2019.693,"v":2,"s":"Breadth"},{"t":2019.697,"v":3,"s":"Breadth"},{"t":2019.746,"v":3,"s":"Breadth"},{"t":2019.751,"v":1,"s":"Breadth"},{"t":2019.756,"v":1,"s":"Breadth"},{"t":2019.761,"v":0,"s":"Breadth"},{"t":2019.765,"v":0,"s":"Breadth"},{"t":2019.772,"v":-2,"s":"Breadth"},{"t":2019.777,"v":1,"s":"Breadth"},{"t":2019.779,"v":-1,"s":"Breadth"},{"t":2019.782,"v":0,"s":"Breadth"},{"t":2019.789,"v":3,"s":"Breadth"},{"t":2020.006,"v":3,"s":"Breadth"},{"t":2020.017,"v":2,"s":"Breadth"},{"t":2020.064,"v":2,"s":"Breadth"},{"t":2020.072,"v":0,"s":"Breadth"},{"t":2020.076,"v":0,"s":"Breadth"},{"t":2020.083,"v":-1,"s":"Breadth"},{"t":2020.090,"v":-1,"s":"Breadth"},{"t":2020.095,"v":2,"s":"Breadth"},{"t":2020.100,"v":0,"s":"Breadth"},{"t":2020.107,"v":0,"s":"Breadth"},{"t":2020.114,"v":2,"s":"Breadth"},{"t":2020.128,"v":2,"s":"Breadth"},{"t":2020.138,"v":0,"s":"Breadth"},{"t":2020.147,"v":-1,"s":"Breadth"},{"t":2020.155,"v":-3,"s":"Breadth"},{"t":2020.161,"v":-1,"s":"Breadth"},{"t":2020.168,"v":-1,"s":"Breadth"},{"t":2020.173,"v":-3,"s":"Breadth"},{"t":2020.189,"v":-1,"s":"Breadth"},{"t":2020.251,"v":-1,"s":"Breadth"},{"t":2020.260,"v":1,"s":"Breadth"},{"t":2020.265,"v":-1,"s":"Breadth"},{"t":2020.298,"v":-1,"s":"Breadth"},{"t":2020.303,"v":0,"s":"Breadth"},{"t":2020.307,"v":0,"s":"Breadth"},{"t":2020.312,"v":1,"s":"Breadth"},{"t":2020.321,"v":3,"s":"Breadth"},{"t":2020.326,"v":1,"s":"Breadth"},{"t":2020.331,"v":3,"s":"Breadth"},{"t":2020.336,"v":1,"s":"Breadth"},{"t":2020.340,"v":3,"s":"Breadth"},{"t":2020.350,"v":3,"s":"Breadth"},{"t":2020.356,"v":2,"s":"Breadth"},{"t":2020.364,"v":1,"s":"Breadth"},{"t":2020.378,"v":3,"s":"Breadth"},{"t":2020.480,"v":3,"s":"Breadth"},{"t":2020.484,"v":1,"s":"Breadth"},{"t":2020.491,"v":3,"s":"Breadth"},{"t":2020.515,"v":3,"s":"Breadth"},{"t":2020.519,"v":1,"s":"Breadth"},{"t":2020.522,"v":3,"s":"Breadth"},{"t":2020.527,"v":1,"s":"Breadth"},{"t":2020.533,"v":3,"s":"Breadth"},{"t":2020.548,"v":3,"s":"Breadth"},{"t":2020.552,"v":2,"s":"Breadth"},{"t":2020.557,"v":3,"s":"Breadth"},{"t":2020.675,"v":3,"s":"Breadth"},{"t":2020.684,"v":-1,"s":"Breadth"},{"t":2020.689,"v":3,"s":"Breadth"},{"t":2020.694,"v":-1,"s":"Breadth"},{"t":2020.703,"v":3,"s":"Breadth"},{"t":2020.708,"v":1,"s":"Breadth"},{"t":2020.711,"v":3,"s":"Breadth"},{"t":2020.717,"v":1,"s":"Breadth"},{"t":2020.722,"v":1,"s":"Breadth"},{"t":2020.729,"v":-2,"s":"Breadth"},{"t":2020.739,"v":0,"s":"Breadth"},{"t":2020.748,"v":0,"s":"Breadth"},{"t":2020.758,"v":3,"s":"Breadth"},{"t":2020.762,"v":2,"s":"Breadth"},{"t":2020.767,"v":3,"s":"Breadth"},{"t":2020.814,"v":3,"s":"Breadth"},{"t":2020.821,"v":0,"s":"Breadth"},{"t":2020.826,"v":-1,"s":"Breadth"},{"t":2020.833,"v":0,"s":"Breadth"},{"t":2020.837,"v":3,"s":"Breadth"},{"t":2020.986,"v":3,"s":"Breadth"},
{"t":2015.366,"v":1,"s":"Liquidity"},{"t":2015.519,"v":1,"s":"Liquidity"},{"t":2015.523,"v":0,"s":"Liquidity"},{"t":2015.549,"v":0,"s":"Liquidity"},{"t":2015.551,"v":1,"s":"Liquidity"},{"t":2015.599,"v":1,"s":"Liquidity"},{"t":2015.605,"v":0,"s":"Liquidity"},{"t":2015.872,"v":0,"s":"Liquidity"},{"t":2015.878,"v":1,"s":"Liquidity"},{"t":2015.933,"v":1,"s":"Liquidity"},{"t":2015.939,"v":-1,"s":"Liquidity"},{"t":2016.172,"v":-1,"s":"Liquidity"},{"t":2016.177,"v":1,"s":"Liquidity"},{"t":2016.448,"v":1,"s":"Liquidity"},{"t":2016.451,"v":-1,"s":"Liquidity"},{"t":2016.468,"v":-1,"s":"Liquidity"},{"t":2016.471,"v":1,"s":"Liquidity"},{"t":2016.474,"v":1,"s":"Liquidity"},{"t":2016.477,"v":-1,"s":"Liquidity"},{"t":2016.492,"v":-1,"s":"Liquidity"},{"t":2016.496,"v":1,"s":"Liquidity"},{"t":2016.697,"v":1,"s":"Liquidity"},{"t":2016.701,"v":-1,"s":"Liquidity"},{"t":2016.759,"v":-1,"s":"Liquidity"},{"t":2016.763,"v":1,"s":"Liquidity"},{"t":2016.824,"v":1,"s":"Liquidity"},{"t":2016.829,"v":-1,"s":"Liquidity"},{"t":2016.864,"v":-1,"s":"Liquidity"},{"t":2016.869,"v":1,"s":"Liquidity"},{"t":2017.096,"v":1,"s":"Liquidity"},{"t":2017.101,"v":-1,"s":"Liquidity"},{"t":2017.117,"v":-1,"s":"Liquidity"},{"t":2017.122,"v":1,"s":"Liquidity"},{"t":2017.179,"v":1,"s":"Liquidity"},{"t":2017.185,"v":-1,"s":"Liquidity"},{"t":2017.332,"v":-1,"s":"Liquidity"},{"t":2017.337,"v":1,"s":"Liquidity"},{"t":2017.599,"v":1,"s":"Liquidity"},{"t":2017.604,"v":-1,"s":"Liquidity"},{"t":2017.709,"v":-1,"s":"Liquidity"},{"t":2017.713,"v":1,"s":"Liquidity"},{"t":2017.852,"v":1,"s":"Liquidity"},{"t":2017.857,"v":-1,"s":"Liquidity"},{"t":2017.881,"v":-1,"s":"Liquidity"},{"t":2017.886,"v":1,"s":"Liquidity"},{"t":2018.108,"v":1,"s":"Liquidity"},{"t":2018.113,"v":-1,"s":"Liquidity"},{"t":2018.277,"v":-1,"s":"Liquidity"},{"t":2018.281,"v":1,"s":"Liquidity"},{"t":2018.294,"v":1,"s":"Liquidity"},{"t":2018.298,"v":-1,"s":"Liquidity"},{"t":2018.523,"v":-1,"s":"Liquidity"},{"t":2018.527,"v":1,"s":"Liquidity"},{"t":2018.637,"v":1,"s":"Liquidity"},{"t":2018.641,"v":-1,"s":"Liquidity"},{"t":2018.698,"v":-1,"s":"Liquidity"},{"t":2018.703,"v":1,"s":"Liquidity"},{"t":2018.754,"v":1,"s":"Liquidity"},{"t":2018.761,"v":-2,"s":"Liquidity"},{"t":2018.885,"v":-2,"s":"Liquidity"},{"t":2018.889,"v":-1,"s":"Liquidity"},{"t":2019.040,"v":-1,"s":"Liquidity"},{"t":2019.045,"v":1,"s":"Liquidity"},{"t":2019.345,"v":1,"s":"Liquidity"},{"t":2019.355,"v":-1,"s":"Liquidity"},{"t":2019.458,"v":-1,"s":"Liquidity"},{"t":2019.465,"v":1,"s":"Liquidity"},{"t":2019.584,"v":1,"s":"Liquidity"},{"t":2019.593,"v":-1,"s":"Liquidity"},{"t":2019.632,"v":-1,"s":"Liquidity"},{"t":2019.636,"v":1,"s":"Liquidity"},{"t":2019.751,"v":1,"s":"Liquidity"},{"t":2019.756,"v":-1,"s":"Liquidity"},{"t":2019.784,"v":-1,"s":"Liquidity"},{"t":2019.789,"v":1,"s":"Liquidity"},{"t":2020.072,"v":1,"s":"Liquidity"},{"t":2020.081,"v":-1,"s":"Liquidity"},{"t":2020.108,"v":-1,"s":"Liquidity"},{"t":2020.111,"v":1,"s":"Liquidity"},{"t":2020.138,"v":1,"s":"Liquidity"},{"t":2020.147,"v":-1,"s":"Liquidity"},{"t":2020.284,"v":-1,"s":"Liquidity"},{"t":2020.288,"v":1,"s":"Liquidity"},{"t":2020.350,"v":1,"s":"Liquidity"},{"t":2020.359,"v":-1,"s":"Liquidity"},{"t":2020.373,"v":-1,"s":"Liquidity"},{"t":2020.378,"v":1,"s":"Liquidity"},{"t":2020.538,"v":1,"s":"Liquidity"},{"t":2020.548,"v":2,"s":"Liquidity"},{"t":2020.632,"v":2,"s":"Liquidity"},{"t":2020.637,"v":0,"s":"Liquidity"},{"t":2020.769,"v":0,"s":"Liquidity"},{"t":2020.777,"v":2,"s":"Liquidity"},{"t":2020.783,"v":2,"s":"Liquidity"},{"t":2020.788,"v":1,"s":"Liquidity"},{"t":2020.877,"v":1,"s":"Liquidity"},{"t":2020.882,"v":2,"s":"Liquidity"},{"t":2020.986,"v":2,"s":"Liquidity"},
{"t":2015.366,"v":0,"s":"Sentiment"},{"t":2015.511,"v":0,"s":"Sentiment"},{"t":2015.517,"v":1,"s":"Sentiment"},{"t":2015.632,"v":1,"s":"Sentiment"},{"t":2015.645,"v":2,"s":"Sentiment"},{"t":2015.746,"v":2,"s":"Sentiment"},{"t":2015.752,"v":1,"s":"Sentiment"},{"t":2015.779,"v":1,"s":"Sentiment"},{"t":2015.784,"v":2,"s":"Sentiment"},{"t":2015.899,"v":2,"s":"Sentiment"},{"t":2015.905,"v":1,"s":"Sentiment"},{"t":2015.931,"v":1,"s":"Sentiment"},{"t":2015.933,"v":0,"s":"Sentiment"},{"t":2015.952,"v":0,"s":"Sentiment"},{"t":2015.960,"v":1,"s":"Sentiment"},{"t":2016.032,"v":1,"s":"Sentiment"},{"t":2016.038,"v":2,"s":"Sentiment"},{"t":2016.070,"v":2,"s":"Sentiment"},{"t":2016.078,"v":3,"s":"Sentiment"},{"t":2016.227,"v":3,"s":"Sentiment"},{"t":2016.240,"v":2,"s":"Sentiment"},{"t":2016.246,"v":1,"s":"Sentiment"},{"t":2016.307,"v":1,"s":"Sentiment"},{"t":2016.316,"v":0,"s":"Sentiment"},{"t":2016.412,"v":0,"s":"Sentiment"},{"t":2016.414,"v":1,"s":"Sentiment"},{"t":2016.482,"v":1,"s":"Sentiment"},{"t":2016.487,"v":2,"s":"Sentiment"},{"t":2016.601,"v":2,"s":"Sentiment"},{"t":2016.609,"v":1,"s":"Sentiment"},{"t":2016.666,"v":1,"s":"Sentiment"},{"t":2016.673,"v":-1,"s":"Sentiment"},{"t":2016.720,"v":-1,"s":"Sentiment"},{"t":2016.725,"v":0,"s":"Sentiment"},{"t":2016.879,"v":0,"s":"Sentiment"},{"t":2016.891,"v":1,"s":"Sentiment"},{"t":2016.898,"v":0,"s":"Sentiment"},{"t":2017.043,"v":0,"s":"Sentiment"},{"t":2017.049,"v":-2,"s":"Sentiment"},{"t":2017.117,"v":-2,"s":"Sentiment"},{"t":2017.119,"v":-1,"s":"Sentiment"},{"t":2017.141,"v":-1,"s":"Sentiment"},{"t":2017.146,"v":0,"s":"Sentiment"},{"t":2017.590,"v":0,"s":"Sentiment"},{"t":2017.599,"v":-1,"s":"Sentiment"},{"t":2017.733,"v":-1,"s":"Sentiment"},{"t":2017.736,"v":0,"s":"Sentiment"},{"t":2017.850,"v":0,"s":"Sentiment"},{"t":2017.857,"v":-1,"s":"Sentiment"},{"t":2017.943,"v":-1,"s":"Sentiment"},{"t":2017.948,"v":-2,"s":"Sentiment"},{"t":2018.239,"v":-2,"s":"Sentiment"},{"t":2018.248,"v":-1,"s":"Sentiment"},{"t":2018.272,"v":-1,"s":"Sentiment"},{"t":2018.279,"v":1,"s":"Sentiment"},{"t":2018.410,"v":1,"s":"Sentiment"},{"t":2018.415,"v":0,"s":"Sentiment"},{"t":2018.447,"v":0,"s":"Sentiment"},{"t":2018.450,"v":-1,"s":"Sentiment"},{"t":2018.577,"v":-1,"s":"Sentiment"},{"t":2018.582,"v":0,"s":"Sentiment"},{"t":2018.754,"v":0,"s":"Sentiment"},{"t":2018.761,"v":-1,"s":"Sentiment"},{"t":2018.822,"v":-1,"s":"Sentiment"},{"t":2018.830,"v":0,"s":"Sentiment"},{"t":2018.887,"v":0,"s":"Sentiment"},{"t":2018.895,"v":2,"s":"Sentiment"},{"t":2019.097,"v":2,"s":"Sentiment"},{"t":2019.102,"v":1,"s":"Sentiment"},{"t":2019.156,"v":1,"s":"Sentiment"},{"t":2019.162,"v":-1,"s":"Sentiment"},{"t":2019.288,"v":-1,"s":"Sentiment"},{"t":2019.293,"v":0,"s":"Sentiment"},{"t":2019.593,"v":0,"s":"Sentiment"},{"t":2019.598,"v":1,"s":"Sentiment"},{"t":2019.775,"v":1,"s":"Sentiment"},{"t":2019.784,"v":2,"s":"Sentiment"},{"t":2019.904,"v":2,"s":"Sentiment"},{"t":2019.919,"v":0,"s":"Sentiment"},{"t":2019.963,"v":0,"s":"Sentiment"},{"t":2019.968,"v":-1,"s":"Sentiment"},{"t":2020.006,"v":-1,"s":"Sentiment"},{"t":2020.013,"v":-2,"s":"Sentiment"},{"t":2020.039,"v":-2,"s":"Sentiment"},{"t":2020.043,"v":-3,"s":"Sentiment"},{"t":2020.185,"v":-3,"s":"Sentiment"},{"t":2020.194,"v":1,"s":"Sentiment"},{"t":2020.255,"v":1,"s":"Sentiment"},{"t":2020.262,"v":2,"s":"Sentiment"},{"t":2020.378,"v":2,"s":"Sentiment"},{"t":2020.383,"v":1,"s":"Sentiment"},{"t":2020.411,"v":1,"s":"Sentiment"},{"t":2020.416,"v":0,"s":"Sentiment"},{"t":2020.585,"v":0,"s":"Sentiment"},{"t":2020.590,"v":-1,"s":"Sentiment"},{"t":2020.859,"v":-1,"s":"Sentiment"},{"t":2020.863,"v":-3,"s":"Sentiment"},{"t":2020.986,"v":-3,"s":"Sentiment"}
],
"sqn": [
{"t":2015.370,"v":0.29},{"t":2015.383,"v":0.43},{"t":2015.401,"v":0.71},{"t":2015.420,"v":0.57},{"t":2015.438,"v":0.43},{"t":2015.457,"v":0.68},{"t":2015.475,"v":0.48},{"t":2015.494,"v":0.10},{"t":2015.513,"v":-0.36},{"t":2015.531,"v":-0.22},{"t":2015.550,"v":-0.13},{"t":2015.568,"v":-0.27},{"t":2015.577,"v":0.21},{"t":2015.596,"v":-0.27},{"t":2015.614,"v":-0.18},{"t":2015.633,"v":-0.27},{"t":2015.648,"v":-1.48},{"t":2015.661,"v":-0.92},{"t":2015.679,"v":-1.20},{"t":2015.698,"v":-1.11},{"t":2015.716,"v":-1.06},{"t":2015.735,"v":-1.40},{"t":2015.748,"v":-1.46},{"t":2015.763,"v":-0.97},{"t":2015.781,"v":-0.69},{"t":2015.809,"v":-0.46},{"t":2015.837,"v":-0.36},{"t":2015.855,"v":-0.55},{"t":2015.883,"v":-0.36},{"t":2015.902,"v":-0.20},{"t":2015.930,"v":-0.55},{"t":2015.967,"v":-0.46},{"t":2015.994,"v":-0.50},{"t":2016.022,"v":-0.88},{"t":2016.037,"v":-0.20},{"t":2016.050,"v":-0.92},{"t":2016.069,"v":-0.41},{"t":2016.087,"v":-0.55},{"t":2016.106,"v":-0.92},{"t":2016.124,"v":-0.46},{"t":2016.143,"v":-0.04},{"t":2016.161,"v":-0.46},{"t":2016.189,"v":-0.32},{"t":2016.226,"v":-0.32},{"t":2016.245,"v":-0.36},{"t":2016.272,"v":-0.08},{"t":2016.300,"v":0.01},{"t":2016.328,"v":0.06},{"t":2016.356,"v":0.29},{"t":2016.374,"v":0.06},{"t":2016.384,"v":-0.08},{"t":2016.402,"v":0.43},{"t":2016.421,"v":0.57},{"t":2016.439,"v":1.36},{"t":2016.458,"v":1.22},{"t":2016.476,"v":1.31},{"t":2016.489,"v":0.52},{"t":2016.500,"v":1.31},{"t":2016.523,"v":1.41},{"t":2016.541,"v":1.31},{"t":2016.569,"v":0.94},{"t":2016.597,"v":0.76},{"t":2016.625,"v":0.80},{"t":2016.652,"v":0.66},{"t":2016.671,"v":0.80},{"t":2016.686,"v":0.20},{"t":2016.708,"v":0.10},{"t":2016.727,"v":0.34},{"t":2016.764,"v":0.48},{"t":2016.791,"v":0.15},{"t":2016.819,"v":-0.18},{"t":2016.838,"v":-0.04},{"t":2016.866,"v":0.15},{"t":2016.875,"v":0.94},{"t":2016.890,"v":0.48},{"t":2016.912,"v":0.15},{"t":2016.930,"v":0.57},{"t":2016.968,"v":0.62},{"t":2016.995,"v":0.38},{"t":2017.023,"v":0.57},{"t":2017.051,"v":0.52},{"t":2017.070,"v":0.62},{"t":2017.088,"v":0.90},{"t":2017.107,"v":1.31},{"t":2017.134,"v":1.59},{"t":2017.162,"v":1.69},{"t":2017.190,"v":1.83},{"t":2017.218,"v":1.73},{"t":2017.242,"v":2.15},{"t":2017.255,"v":1.83},{"t":2017.283,"v":1.36},{"t":2017.301,"v":1.31},{"t":2017.320,"v":1.03},{"t":2017.348,"v":0.80},{"t":2017.366,"v":0.94},{"t":2017.394,"v":0.90},{"t":2017.422,"v":0.80},{"t":2017.449,"v":1.13},{"t":2017.477,"v":0.90},{"t":2017.505,"v":1.03},{"t":2017.524,"v":0.48},{"t":2017.551,"v":0.71},{"t":2017.579,"v":0.99},{"t":2017.607,"v":0.43},{"t":2017.626,"v":0.38},{"t":2017.653,"v":0.71},{"t":2017.681,"v":1.03},{"t":2017.709,"v":1.22},{"t":2017.737,"v":1.13},{"t":2017.765,"v":1.87},{"t":2017.792,"v":1.50},{"t":2017.820,"v":1.41},{"t":2017.848,"v":1.31},{"t":2017.876,"v":1.03},{"t":2017.894,"v":1.41},{"t":2017.913,"v":1.97},{"t":2017.931,"v":1.50},{"t":2017.950,"v":1.78},{"t":2017.978,"v":1.83},{"t":2017.996,"v":1.97},{"t":2018.009,"v":2.81},{"t":2018.024,"v":2.95},{"t":2018.033,"v":3.55},{"t":2018.046,"v":3.74},{"t":2018.061,"v":3.91},{"t":2018.070,"v":3.83},{"t":2018.080,"v":3.13},{"t":2018.089,"v":1.50},{"t":2018.098,"v":0.85},{"t":2018.107,"v":0.29},{"t":2018.126,"v":0.76},{"t":2018.145,"v":0.57},{"t":2018.163,"v":0.29},{"t":2018.182,"v":0.52},{"t":2018.200,"v":0.29},{"t":2018.219,"v":-0.08},{"t":2018.237,"v":0.10},
{"t":2018.257,"v":0.15},{"t":2018.285,"v":0.29},{"t":2018.313,"v":0.01},{"t":2018.341,"v":-0.13},{"t":2018.360,"v":0.06},{"t":2018.388,"v":-0.13},{"t":2018.407,"v":-0.36},{"t":2018.425,"v":-0.41},{"t":2018.453,"v":-0.60},{"t":2018.472,"v":-0.78},{"t":2018.490,"v":-0.13},{"t":2018.509,"v":0.20},{"t":2018.537,"v":-0.18},{"t":2018.565,"v":0.38},{"t":2018.593,"v":0.10},{"t":2018.621,"v":0.76},{"t":2018.640,"v":0.99},{"t":2018.653,"v":1.03},{"t":2018.668,"v":0.71},{"t":2018.686,"v":0.29},{"t":2018.705,"v":0.80},{"t":2018.728,"v":1.13},{"t":2018.746,"v":0.90},{"t":2018.765,"v":0.43},{"t":2018.780,"v":-0.50},{"t":2018.795,"v":-0.18},{"t":2018.808,"v":-0.64},{"t":2018.821,"v":-1.00},{"t":2018.836,"v":-0.55},{"t":2018.854,"v":-0.04},{"t":2018.873,"v":-0.46},{"t":2018.892,"v":-0.27},{"t":2018.910,"v":-0.22},{"t":2018.929,"v":-0.74},{"t":2018.948,"v":-0.97},{"t":2018.966,"v":-1.39},{"t":2018.979,"v":-1.86},{"t":2018.994,"v":-1.34},{"t":2019.007,"v":-1.06},{"t":2019.022,"v":-0.88},{"t":2019.060,"v":-0.69},{"t":2019.097,"v":-0.46},{"t":2019.134,"v":-0.32},{"t":2019.172,"v":-0.18},{"t":2019.190,"v":0.10},{"t":2019.209,"v":0.43},{"t":2019.237,"v":0.48},{"t":2019.256,"v":0.29},{"t":2019.284,"v":0.66},{"t":2019.312,"v":0.76},{"t":2019.340,"v":1.03},{"t":2019.358,"v":0.90},{"t":2019.381,"v":1.92},{"t":2019.396,"v":1.36},{"t":2019.424,"v":1.03},{"t":2019.442,"v":1.08},{"t":2019.461,"v":1.22},{"t":2019.480,"v":0.90},{"t":2019.508,"v":1.17},{"t":2019.536,"v":0.76},{"t":2019.567,"v":0.90},{"t":2019.586,"v":0.01},{"t":2019.610,"v":-0.13},{"t":2019.629,"v":0.01},{"t":2019.648,"v":-0.41},{"t":2019.666,"v":-0.13},{"t":2019.694,"v":0.20},{"t":2019.732,"v":0.20},{"t":2019.760,"v":-0.13},{"t":2019.788,"v":0.76},{"t":2019.806,"v":0.80},{"t":2019.825,"v":0.48},{"t":2019.853,"v":0.57},{"t":2019.881,"v":0.48},{"t":2019.909,"v":0.20},{"t":2019.937,"v":0.52},{"t":2019.956,"v":0.66},{"t":2019.984,"v":1.45},{"t":2020.002,"v":1.59},{"t":2020.021,"v":1.97},{"t":2020.040,"v":2.53},{"t":2020.058,"v":1.73},{"t":2020.086,"v":0.94},{"t":2020.105,"v":1.08},{"t":2020.133,"v":1.31},{"t":2020.142,"v":0.90},{"t":2020.152,"v":0.38},{"t":2020.161,"v":-0.36},{"t":2020.170,"v":0.20},{"t":2020.189,"v":-0.92},{"t":2020.208,"v":-1.30},{"t":2020.221,"v":-1.59},{"t":2020.236,"v":-0.97},{"t":2020.264,"v":-0.78},{"t":2020.282,"v":-0.74},{"t":2020.310,"v":-0.83},{"t":2020.338,"v":-0.74},{"t":2020.366,"v":-0.83},{"t":2020.404,"v":-0.64},{"t":2020.432,"v":-0.36},{"t":2020.450,"v":-0.69},{"t":2020.478,"v":-0.55},{"t":2020.506,"v":-0.60},{"t":2020.530,"v":-0.55},{"t":2020.543,"v":-0.18},{"t":2020.571,"v":0.38},{"t":2020.590,"v":1.03},{"t":2020.613,"v":1.78},{"t":2020.637,"v":1.13},{"t":2020.655,"v":1.59},{"t":2020.674,"v":1.08},{"t":2020.702,"v":1.03},{"t":2020.721,"v":0.71},{"t":2020.749,"v":1.17},{"t":2020.777,"v":1.13},{"t":2020.795,"v":0.71},{"t":2020.814,"v":0.43},{"t":2020.823,"v":-0.27},{"t":2020.833,"v":0.20},{"t":2020.851,"v":0.94},{"t":2020.874,"v":1.69},{"t":2020.898,"v":1.55},{"t":2020.926,"v":1.55},{"t":2020.954,"v":1.41},{"t":2020.973,"v":1.36},{"t":2020.986,"v":1.27}
],
"bands": [
{"lo":1.7,"hi":4,"r":"Strong Bull"},{"lo":0.6,"hi":1.7,"r":"Bull"},{"lo":-0.2,"hi":0.6,"r":"Neutral"},{"lo":-0.6,"hi":-0.2,"r":"Bear"},{"lo":-1.97,"hi":-0.6,"r":"Strong Bear"}
]
},
"vconcat": [
{
 "title": "NYSE Price History",
 "width": 2165, "height": 234,
 "data": {"name": "price"},
 "mark": {"type": "line", "strokeWidth": 2.6, "clip": true},
 "encoding": {
  "x": {"field": "t", "type": "quantitative", "scale": {"domain": [2015.364, 2021.147], "nice": false, "zero": false}, "axis": {"values": [2016,2017,2018,2019,2020,2021], "labels": false, "title": null}},
  "y": {"field": "v", "type": "quantitative", "scale": {"domain": [6150, 14860], "nice": false, "zero": false}, "axis": {"values": [8000,10000,12000,14000], "format": "d", "title": "Price History"}},
  "color": {"datum": "Price History", "type": "nominal", "scale": {"domain": ["Price History"], "range": ["#000000"]}, "legend": {"title": null}}
 }
},
{
 "title": "Trifecta Lens Score",
 "width": 2165, "height": 233,
 "layer": [
  {
   "data": {"values": [{"z": 0}]},
   "mark": {"type": "rule", "color": "#ff9999", "strokeWidth": 2},
   "encoding": {"y": {"field": "z", "type": "quantitative", "scale": {"domain": [-7, 7], "nice": false, "zero": false}, "axis": {"values": [-6,-4,-2,0,2,4,6], "title": "TL Score", "titlePadding": 3}}}
  },
  {
   "data": {"name": "tl"},
   "mark": {"type": "line", "strokeWidth": 3, "clip": true},
   "encoding": {
    "x": {"field": "t", "type": "quantitative", "scale": {"domain": [2015.364, 2021.147], "nice": false, "zero": false}, "axis": {"values": [2016,2017,2018,2019,2020,2021], "labels": false, "title": null}},
    "y": {"field": "v", "type": "quantitative", "axis": {"values": [-6,-4,-2,0,2,4,6], "title": "TL Score", "titlePadding": 3}},
    "color": {"datum": "TL Score", "type": "nominal", "scale": {"domain": ["TL Score"], "range": ["#000080"]}, "legend": {"title": null}}
   }
  }
 ]
},
{
 "title": "TL Component Score",
 "width": 2165, "height": 236,
 "data": {"name": "comp"},
 "mark": {"type": "line", "strokeWidth": 1.4, "clip": true},
 "encoding": {
  "x": {"field": "t", "type": "quantitative", "scale": {"domain": [2015.364, 2021.147], "nice": false, "zero": false}, "axis": {"values": [2016,2017,2018,2019,2020,2021], "labels": false, "title": null}},
  "y": {"field": "v", "type": "quantitative", "scale": {"domain": [-4, 4], "nice": false, "zero": false}, "axis": {"values": [-4,-3,-2,-1,0,1,2,3,4], "title": "Component Score", "titlePadding": 3}},
  "color": {"field": "s", "type": "nominal", "scale": {"domain": ["Breadth", "Liquidity", "Sentiment"], "range": ["#2f5e8c", "#bfdcf5", "#aaaaaa"]}, "legend": {"title": null}}
 }
},
{
 "title": "SQN Market Regimes",
 "width": 2165, "height": 214,
 "layer": [
  {
   "data": {"name": "bands"},
   "mark": {"type": "rect", "opacity": 0.5},
   "encoding": {
    "y": {"field": "lo", "type": "quantitative", "scale": {"domain": [-1.97, 4], "nice": false, "zero": false}, "axis": {"values": [-1,0,1,2,3,4], "title": "SQN Value", "titlePadding": 3}},
    "y2": {"field": "hi"},
    "color": {"field": "r", "type": "nominal", "scale": {"domain": ["Strong Bull", "Bull", "Neutral", "Bear", "Strong Bear"], "range": ["#778f61", "#9dc779", "#8d7341", "#e13941", "#bb373d"]}, "legend": null}
   }
  },
  {
   "data": {"name": "sqn"},
   "mark": {"type": "line", "strokeWidth": 1.6, "color": "#000000", "clip": true},
   "encoding": {
    "x": {"field": "t", "type": "quantitative", "scale": {"domain": [2015.364, 2021.147], "nice": false, "zero": false}, "axis": {"values": [2016,2017,2018,2019,2020,2021], "format": "d", "labelFontSize": 13, "title": null}},
    "y": {"field": "v", "type": "quantitative", "axis": {"values": [-1,0,1,2,3,4], "title": "SQN Value", "titlePadding": 3}}
   }
  }
 ]
}
]
}
